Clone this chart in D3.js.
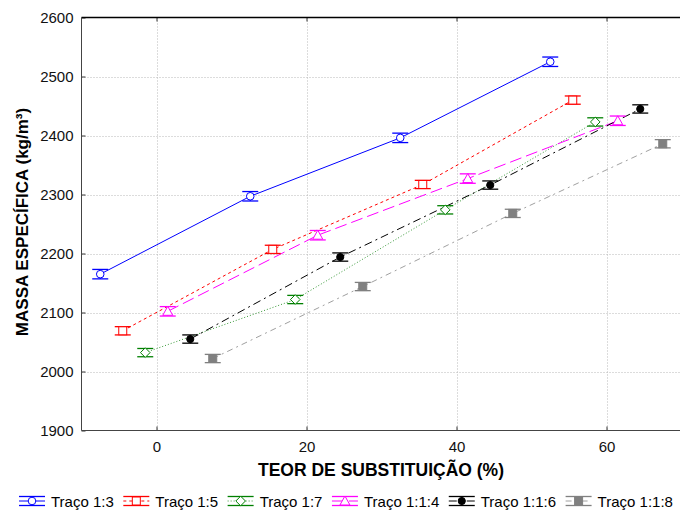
<!DOCTYPE html>
<html>
<head>
<meta charset="utf-8">
<script src="https://cdn.jsdelivr.net/npm/d3@7"></script>
<style>
  html, body { margin: 0; padding: 0; background: #fff; }
  svg { display: block; font-family: "Liberation Sans", Arial, sans-serif; }
</style>
</head>
<body>
<svg id="chart" width="680" height="514"></svg>
<script>
// Substitution content (%) of each measured point, per mix
const seriesNames = ["Traço 1:3", "Traço 1:5", "Traço 1:7", "Traço 1:1:4", "Traço 1:1:6", "Traço 1:1:8"];
const xTraco13  = [-7.5, 12.5, 32.5, 52.5];
const xTraco15  = [-4.5, 15.5, 35.5, 55.5];
const xTraco17  = [-1.5, 18.5, 38.5, 58.5];
const xTraco114 = [1.5, 21.5, 41.5, 61.5];
const xTraco116 = [4.5, 24.5, 44.5, 64.5];
const xTraco118 = [7.5, 27.5, 47.5, 67.5];

// Specific mass (kg/m³)
const yTraco13  = [2165, 2297, 2396, 2525];
const yTraco15  = [2069, 2207, 2317, 2460];
const yTraco17  = [2032, 2122, 2274, 2423];
const yTraco114 = [2102, 2231, 2327, 2425];
const yTraco116 = [2055, 2194, 2316, 2445];
const yTraco118 = [2022, 2144, 2268, 2386];

// Half-width of the error bars (kg/m³)
const errTraco = [8, 7, 7, 8, 7, 7];

const xTicks = [0, 20, 40, 60];
const yTicks = [1900, 2000, 2100, 2200, 2300, 2400, 2500, 2600];

const xs = [xTraco13, xTraco15, xTraco17, xTraco114, xTraco116, xTraco118];
const ys = [yTraco13, yTraco15, yTraco17, yTraco114, yTraco116, yTraco118];

const styles = [
  { color: "#0000ff", dash: null,          marker: "circle",   filled: false },
  { color: "#ff0000", dash: "3,3",         marker: "square",   filled: false },
  { color: "#008000", dash: "1,2",         marker: "diamond",  filled: false, lineColor: "#3a9a3a" },
  { color: "#ff00ff", dash: "12,5",        marker: "triangle", filled: false },
  { color: "#000000", dash: "8,4,2,4",     marker: "circle",   filled: true },
  { color: "#808080", dash: "6,4,2,4",     marker: "square",   filled: true, lineColor: "#a0a0a0" }
];

const series = seriesNames.map((name, i) => ({
  name,
  style: styles[i],
  err: errTraco[i],
  points: xs[i].map((x, j) => ({ x, y: ys[i][j] }))
}));

const svg = d3.select("#chart");
const plotLeft = 81.5, plotRight = 681.5, plotTop = 17.5, plotBottom = 430.5;

const x = d3.scaleLinear().domain([-10, 70]).range([plotLeft, plotRight]);
const y = d3.scaleLinear().domain([1900, 2600]).range([plotBottom, plotTop]);

// Dotted grid
const grid = svg.append("g").attr("stroke", "#b8b8b8").attr("stroke-dasharray", "1,2").attr("stroke-width", 1);
grid.selectAll("line.gx").data(xTicks).join("line")
  .attr("x1", d => Math.round(x(d)) + 0.5).attr("x2", d => Math.round(x(d)) + 0.5)
  .attr("y1", plotTop).attr("y2", plotBottom);
grid.selectAll("line.gy").data(yTicks.slice(1, -1)).join("line")
  .attr("y1", d => Math.round(y(d)) + 0.5).attr("y2", d => Math.round(y(d)) + 0.5)
  .attr("x1", plotLeft).attr("x2", plotRight);

// Axes with inward ticks
const axisStyle = g => {
  g.select(".domain").remove();
  g.selectAll(".tick line").attr("stroke", "#333");
  g.selectAll(".tick text").attr("fill", "#111").style("font-size", "15px");
};

svg.append("g").attr("transform", `translate(${plotLeft},0)`)
  .call(d3.axisLeft(y).tickValues(yTicks).tickSize(-4).tickPadding(8).tickFormat(d3.format("d")))
  .call(axisStyle)
  .call(g => g.attr("font-family", null));

svg.append("g").attr("transform", `translate(0,${plotBottom})`)
  .call(d3.axisBottom(x).tickValues(xTicks).tickSize(-4).tickPadding(11).tickFormat(d3.format("d")))
  .call(axisStyle)
  .call(g => g.attr("font-family", null));

svg.append("g").attr("transform", `translate(0,${plotTop})`)
  .call(d3.axisTop(x).tickValues(xTicks).tickSize(-4).tickFormat(""))
  .call(axisStyle);

// Frame
svg.append("line").attr("x1", plotLeft).attr("x2", plotRight).attr("y1", plotTop).attr("y2", plotTop).attr("stroke", "#000").attr("stroke-width", 1.5);
svg.append("line").attr("x1", plotLeft).attr("x2", plotLeft).attr("y1", plotTop).attr("y2", plotBottom).attr("stroke", "#444");
svg.append("line").attr("x1", plotLeft).attr("x2", plotRight).attr("y1", plotBottom).attr("y2", plotBottom).attr("stroke", "#444");

// Marker drawing
function drawMarker(g, st, cx, cy) {
  const fill = st.filled ? st.color : "#fff";
  if (st.marker === "circle") {
    g.append("circle").attr("cx", cx).attr("cy", cy).attr("r", st.filled ? 3.6 : 3.8)
      .attr("fill", fill).attr("stroke", st.color).attr("stroke-width", 1);
  } else if (st.marker === "square") {
    const s = 8;
    g.append("rect").attr("x", cx - s / 2).attr("y", cy - s / 2).attr("width", s).attr("height", s)
      .attr("fill", fill).attr("stroke", st.color).attr("stroke-width", 1);
  } else if (st.marker === "diamond") {
    const s = 4.8;
    g.append("path").attr("d", `M${cx},${cy - s}L${cx + s},${cy}L${cx},${cy + s}L${cx - s},${cy}Z`)
      .attr("fill", fill).attr("stroke", st.color).attr("stroke-width", 1);
  } else if (st.marker === "triangle") {
    const s = 5;
    g.append("path").attr("d", `M${cx},${cy - s}L${cx + s},${cy + s * 0.8}L${cx - s},${cy + s * 0.8}Z`)
      .attr("fill", fill).attr("stroke", st.color).attr("stroke-width", 1);
  }
}

function drawErrorBar(g, st, cx, y0, y1, halfCap) {
  g.append("line").attr("x1", cx).attr("x2", cx).attr("y1", y0).attr("y2", y1).attr("stroke", st.color);
  [y0, y1].forEach(yy => g.append("line")
    .attr("x1", cx - halfCap).attr("x2", cx + halfCap).attr("y1", yy).attr("y2", yy)
    .attr("stroke", st.color).attr("stroke-width", 1.3));
}

const line = d3.line().x(d => x(d.x)).y(d => y(d.y));

const plot = svg.append("g");
series.forEach(s => {
  plot.append("path").datum(s.points).attr("d", line)
    .attr("fill", "none").attr("stroke", s.style.lineColor || s.style.color).attr("stroke-width", 1)
    .attr("stroke-dasharray", s.style.dash);
});
series.forEach(s => {
  const g = plot.append("g");
  s.points.forEach(p => {
    const cx = x(p.x);
    drawErrorBar(g, s.style, cx, y(p.y + s.err), y(p.y - s.err), 8);
    drawMarker(g, s.style, cx, y(p.y));
  });
});

// Axis titles
svg.append("text").attr("x", 381).attr("y", 476).attr("text-anchor", "middle")
  .attr("font-weight", "bold").style("font-size", "17.5px").attr("fill", "#000")
  .text("TEOR DE SUBSTITUIÇÃO (%)");

svg.append("text").attr("transform", "translate(28,222) rotate(-90)").attr("text-anchor", "middle")
  .attr("font-weight", "bold").style("font-size", "17px").attr("fill", "#000")
  .text("MASSA ESPECÍFICA (kg/m³)");

// Legend
const legend = svg.append("g").attr("transform", "translate(0,501)");
let lx = 19;
series.forEach(s => {
  const g = legend.append("g").attr("transform", `translate(${lx},0)`);
  const w = 26;
  g.append("line").attr("x1", 0).attr("x2", w).attr("y1", 0).attr("y2", 0)
    .attr("stroke", s.style.lineColor || s.style.color).attr("stroke-dasharray", s.style.dash);
  drawErrorBar(g, s.style, w / 2, -4.5, 4.5, w / 2);
  drawMarker(g, s.style, w / 2, 0);
  const t = g.append("text").attr("x", w + 6).attr("y", 5.5).style("font-size", "15px").attr("fill", "#000").text(s.name);
  lx += w + 6 + t.node().getComputedTextLength() + 9.5;
});
</script>
</body>
</html>
